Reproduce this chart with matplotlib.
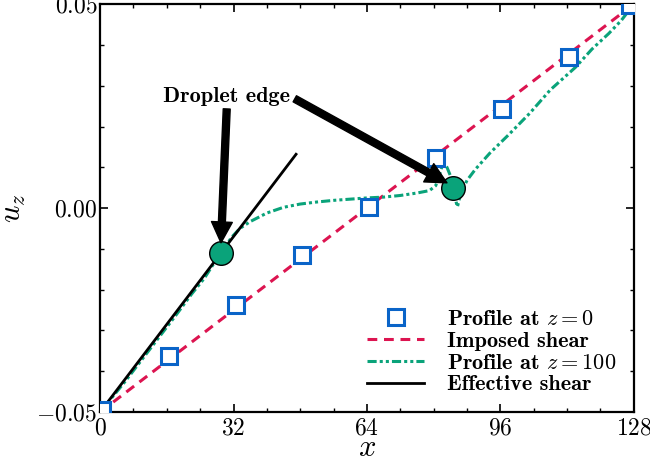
import numpy as np
import matplotlib
matplotlib.use("Agg")
import matplotlib.pyplot as plt

plt.rcParams["font.family"] = "serif"
plt.rcParams["font.serif"] = ["cmr10"]
plt.rcParams["mathtext.fontset"] = "cm"
plt.rcParams["axes.unicode_minus"] = False

# ── data ──────────────────────────────────────────────────────────────────────
L = 128
U0 = 0.05

# profile at z = 0 (squares)
sq_x = [0.5, 16.5, 32.5, 48.5, 64.5, 80.5, 96.5, 112.5, 127.0]
sq_y = [-0.0495, -0.0363, -0.0238, -0.0115, 0.0002, 0.0122, 0.0243, 0.0370, 0.0498]

# imposed shear
imp_x = [0, L]
imp_y = [-U0, U0]

# profile at z = 100
pr_x = [0, 6, 12, 18, 22, 25, 27, 28.5, 30, 31.5, 33.5, 36, 40, 44, 48, 52, 56,
        60, 64, 68, 72, 76, 79, 80.5, 81.5, 82.3, 83.2, 84.2, 85.0, 85.7, 86.5,
        88, 90, 93.5, 98, 103, 108, 114, 118, 122, 125, 128]
pr_y = [-0.0500, -0.0425, -0.0345, -0.0265, -0.0210, -0.0172, -0.0140, -0.0120,
        -0.0095, -0.0072, -0.0050, -0.0033, -0.0012, 0.0002, 0.0010, 0.0015,
        0.0019, 0.0022, 0.0025, 0.0027, 0.0031, 0.0037, 0.0043, 0.0055, 0.0085,
        0.0112, 0.0100, 0.0075, 0.0030, 0.0003, 0.0035, 0.0068, 0.0095, 0.0135,
        0.0180, 0.0232, 0.0290, 0.0345, 0.0390, 0.0428, 0.0460, 0.0500]

# effective shear
eff_x = [0, 47]
eff_y = [-0.0500, 0.0132]

# droplet edges
edge_x = [29.0, 84.6]
edge_y = [-0.0110, 0.0050]

C_BLUE = "#0a64c8"
C_RED = "#dc1450"
C_GREEN = "#0aa37a"

fig = plt.figure(figsize=(6.5, 4.63), dpi=100)
ax = fig.add_axes([0.154, 0.110, 0.821, 0.881])

ax.plot(imp_x, imp_y, color=C_RED, ls=(0, (3.2, 2.2)), lw=2.2, label="Imposed shear", zorder=2)
ax.plot(pr_x, pr_y, color=C_GREEN, ls=(0, (3, 1, 1, 1, 1, 1)), lw=2.2,
        label=r"Profile at $z = 100$", zorder=3)
ax.plot(eff_x, eff_y, color="black", lw=2.0, label="Effective shear", zorder=3)
ax.plot(sq_x, sq_y, ls="none", marker="s", ms=11, mfc="white", mec=C_BLUE, mew=2.2,
        label=r"Profile at $z = 0$", zorder=4)
ax.plot(edge_x, edge_y, ls="none", marker="o", ms=17, mfc=C_GREEN, mec="black", mew=1.0, zorder=5)

arrow = dict(facecolor="black", edgecolor="black", width=5, headwidth=15, headlength=15, shrink=0)
ax.annotate("Droplet edge", xy=(29.0, -0.0085), xytext=(30.4, 0.0250),
            fontfamily="cmb10", fontsize=16, ha="center", va="bottom",
            arrowprops=arrow, zorder=6)
ax.annotate("", xy=(83.2, 0.0062), xytext=(46.7, 0.0268), arrowprops=arrow, zorder=6)

ax.set_xlim(0, L)
ax.set_ylim(-U0, U0)
ax.set_xticks([0, 32, 64, 96, 128])
ax.set_xticks(np.arange(0, 129, 8), minor=True)
ax.set_yticks([-0.05, 0.0, 0.05])
ax.set_yticks(np.arange(-0.05, 0.051, 0.01), minor=True)
ax.set_xticklabels([r"$0$", r"$32$", r"$64$", r"$96$", r"$128$"])
ax.set_yticklabels([r"$-0.05$", r"$0.00$", r"$0.05$"])
ax.tick_params(which="both", direction="in", top=True, right=True, labelsize=17)
ax.tick_params(axis="x", pad=4)
ax.tick_params(axis="y", pad=2)
ax.tick_params(which="major", length=6, width=1.2)
ax.tick_params(which="minor", length=3, width=1.0)
for s in ax.spines.values():
    s.set_linewidth(1.6)

ax.set_xlabel(r"$x$", fontsize=22, labelpad=-4)
ax.set_ylabel(r"$u_z$", fontsize=22, labelpad=6)

h, l = ax.get_legend_handles_labels()
order = [3, 0, 1, 2]
ax.legend([h[i] for i in order], [l[i] for i in order], loc="lower right",
          frameon=False, prop={"family": "cmb10", "size": 16}, handlelength=2.6,
          labelspacing=0.1, borderaxespad=0.4, handletextpad=1.0)

fig.savefig("out.png", dpi=100)
